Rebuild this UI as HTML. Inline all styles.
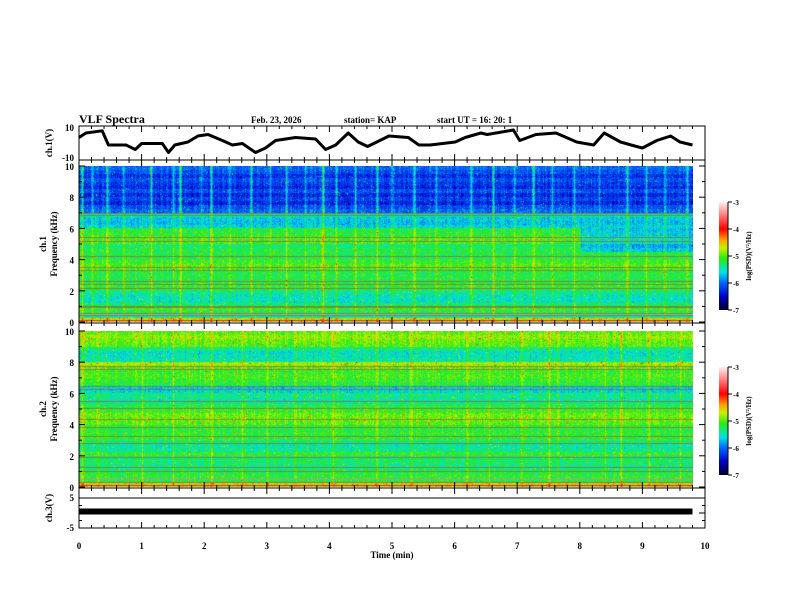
<!DOCTYPE html>
<html><head><meta charset="utf-8"><style>
body{margin:0;background:#fff;width:792px;height:612px;overflow:hidden;font-family:"Liberation Serif",serif}
#wrap{position:relative;width:792px;height:612px}
canvas{position:absolute}
svg{position:absolute;left:0;top:0}
text{font-family:"Liberation Serif",serif;font-weight:bold;fill:#000}
</style></head><body>
<div id="wrap">
<canvas id="spec1" style="left:79px;top:166px" width="614" height="156"></canvas>
<canvas id="spec2" style="left:79px;top:331px" width="614" height="156"></canvas>
<svg id="svg" width="792" height="612"></svg>
</div>
<script>
// ---- data ----
const ch1Times=[0,0.11,0.37,0.47,0.75,0.9,1.0,1.33,1.43,1.53,1.74,1.9,2.06,2.29,2.45,2.61,2.82,2.98,3.14,3.46,3.78,3.94,4.1,4.3,4.46,4.61,4.95,5.26,5.43,5.61,6.01,6.17,6.42,6.52,6.94,7.04,7.3,7.62,7.95,8.22,8.39,8.65,8.82,9.0,9.23,9.45,9.6,9.8];
const ch1Values=[3,6,7.5,-2,-2,-5,-1,-1,-7,-2,0,4,5,1,-2,-1,-7,-4,1,3,2,-5,-2,6,0,-3,4,3,-2,-2,0,3,6,5,8,1,5,6,0,-2,6,0,-2,-4,1,4,0,-2];
const ch3Value=0.5;
const freqBins=[0,0.25,0.5,0.75,1,1.25,1.5,1.75,2,2.25,2.5,2.75,3,3.25,3.5,3.75,4,4.25,4.5,4.75,5,5.25,5.5,5.75,6,6.25,6.5,6.75,7,7.25,7.5,7.75,8,8.25,8.5,8.75,9,9.25,9.5,9.75];
const ch1Profile=[-4.6,-5.4,-5.2,-5.1,-5.3,-5.5,-5.5,-5.4,-5.2,-5.1,-5.2,-5.2,-5.2,-5.05,-5.0,-5.1,-5.2,-5.2,-5.2,-5.3,-5.05,-5.05,-5.15,-5.2,-5.6,-5.7,-5.65,-5.4,-6.0,-6.1,-6.3,-6.15,-6.3,-6.1,-6.3,-6.2,-6.1,-6.25,-6.1,-6.0];
const ch2Profile=[-4.6,-5.2,-5.15,-5.2,-5.3,-5.35,-5.3,-5.3,-5.15,-5.4,-5.45,-5.3,-5.15,-5.15,-5.2,-5.15,-5.0,-4.95,-4.95,-5.1,-5.2,-5.35,-5.45,-5.35,-5.6,-5.6,-5.2,-5.1,-5.05,-5.1,-5.0,-4.8,-5.45,-5.5,-5.55,-5.35,-5.0,-4.95,-4.85,-4.95];
const ch1LateShift=[0,0,0,0,0,0,0,0,-0.45,-0.5];   // per minute shift of 4.5-6 kHz band
const ch1Streaks=[0.05,0.2,0.45,0.7,1.15,1.5,1.62,1.95,2.1,2.4,2.75,3.05,3.3,3.6,3.9,4.1,4.4,4.75,5.0,5.35,5.7,6.25,6.6,6.95,7.25,7.55,7.9,8.3,8.75,9.05,9.35,9.7];
const ch1StreakAmp=[1.0,0.5,0.8,0.4,0.9,0.6,1.0,0.4,0.7,0.5,0.9,0.5,0.8,0.4,1.0,0.6,0.5,0.8,0.4,0.7,0.5,0.6,0.8,0.5,0.9,0.5,0.7,0.4,0.8,0.6,0.5,0.7];
const ch2Streaks=[0.05,0.3,1.0,1.5,1.75,2.1,2.6,3.0,3.45,4.05,4.75,5.3,6.2,6.55,7.05,7.5,7.65,8.4,8.65,9.1,9.6];
const ch2StreakAmp=[0.9,0.5,0.6,0.8,0.5,0.7,0.5,0.8,0.5,0.6,0.5,0.5,0.6,0.5,0.6,0.9,0.6,0.5,0.8,0.5,0.6];
const ch1Lines=[0.15,0.45,0.6,0.95,1.05,2.15,2.45,2.6,3.35,3.5,4.2,5.2,5.45,6.85,7.0];
const ch2Lines=[0.12,0.3,0.5,1.0,1.3,1.95,2.85,3.3,3.85,4.35,5.05,5.5,6.3,6.5,7.55,7.75];
const xTickLabels=["0","1","2","3","4","5","6","7","8","9","10"];
const cbLabels=["-3","-4","-5","-6","-7"];

// ---- helpers ----
const X0=79,X1=705,TMAX=10;
const xs=t=>X0+(X1-X0)*t/TMAX;
const NS="http://www.w3.org/2000/svg";
const svg=document.getElementById('svg');
function el(tag,attrs,parent){const e=document.createElementNS(NS,tag);for(const k in attrs)e.setAttribute(k,attrs[k]);(parent||svg).appendChild(e);return e;}
function txt(x,y,s,size,anchor,name,extra){const t=el('text',Object.assign({x:x,y:y,'font-size':size,'text-anchor':anchor||'start'},extra||{}));t.textContent=s;


return t;}
function line(x1,y1,x2,y2,w,name){const l=el('line',{x1:x1,y1:y1,x2:x2,y2:y2,stroke:'#000','stroke-width':w||1});


return l;}

const stops=[[-7,0,0,40],[-6.5,0,0,200],[-6,0,100,255],[-5.6,0,225,230],[-5.1,40,235,20],[-4.7,200,240,0],[-4.4,255,160,0],[-4.0,255,0,0],[-3.5,255,120,120],[-3,255,240,240]];
function cmap(v){if(v<=-7)return stops[0].slice(1);if(v>=-3)return stops[stops.length-1].slice(1);
for(let i=0;i<stops.length-1;i++){const a=stops[i],b=stops[i+1];if(v>=a[0]&&v<=b[0]){const u=(v-a[0])/(b[0]-a[0]);return [a[1]+u*(b[1]-a[1]),a[2]+u*(b[2]-a[2]),a[3]+u*(b[3]-a[3])];}}}
function hash(a,b){let h=(a*374761393+b*668265263)|0;h=(h^(h>>>13))*1274126177|0;return ((h^(h>>>16))>>>0)/4294967296;}

function drawSpec(id,profile,streaks,amps,lines,lateShift,seed){
  const c=document.getElementById(id),ctx=c.getContext('2d');
  const W=c.width,H=c.height,tEnd=9.8;
  const img=ctx.createImageData(W,H);
  const streakCols=streaks.map(t=>Math.round(t/tEnd*W));
  for(let x=0;x<W;x++){
    const t=x/W*tEnd;const minute=Math.min(9,Math.floor(t));
    let st=0;streakCols.forEach((sc,i)=>{const d=Math.abs(x-sc);if(d<2)st=Math.max(st,amps[i]*(d===0?1:0.4));});
    const colN=(hash(x,seed)-0.5)*0.25;
    for(let y=0;y<H;y++){
      const f=10-(y+0.5)/H*10;const bi=Math.min(profile.length-1,Math.floor(f/0.25));
      let v=profile[bi];
      if(lateShift&&f>4.5&&f<6)v+=lateShift[minute];
      const boost=v<-5.8?st:st*0.55;
      const r=hash(x+seed,y);
      v+=boost+colN+(r-0.5)*0.45+(r>0.985?0.5:0);
      const col=cmap(v);const k=(y*W+x)*4;
      img.data[k]=col[0];img.data[k+1]=col[1];img.data[k+2]=col[2];img.data[k+3]=255;
    }
  }
  ctx.putImageData(img,0,0);
  for(const lf of lines){const y=Math.round(H-lf/10*H)+0.5;ctx.strokeStyle='rgba(150,80,70,0.6)';ctx.lineWidth=1;ctx.beginPath();ctx.moveTo(0,y);ctx.lineTo(W,y);ctx.stroke();}
  ctx.fillStyle='rgba(200,40,40,0.8)';ctx.fillRect(0,H-2,W,1);
  ctx.fillStyle='rgba(220,160,200,0.6)';ctx.fillRect(0,H-8,W,1);
}
drawSpec('spec1',ch1Profile,ch1Streaks,ch1StreakAmp,ch1Lines,ch1LateShift,11);
drawSpec('spec2',ch2Profile,ch2Streaks,ch2StreakAmp,ch2Lines,null,977);

// ---- panels ----
function xTicks(yTop,yBot,name){
  for(let i=0;i<=50;i++){const t=i*0.2,x=xs(t),maj=i%5===0,L=maj?6:3;
    line(x,yTop,x,yTop+L,1,name+'-tick-top');line(x,yBot,x,yBot-L,1,name+'-tick-bottom');}
}
function yTicks(y0,y1,n,name){
  for(let i=0;i<=n;i++){const y=y0+(y1-y0)*i/n,L=i%2===0?6:3;line(X0,y,X0+L,y,1,name+'-ytick');line(X1,y,X1-L,y,1,name+'-ytick-right');}
}
function box(y0,y1,name){const r=el('rect',{x:X0,y:y0,width:X1-X0,height:y1-y0,fill:'none',stroke:'#000','stroke-width':1});

}

txt(79,123,'VLF Spectra',12,'start','chart-title');
txt(251,123,'Feb. 23, 2026',9,'start','date-label');
txt(344,123,'station= KAP',9,'start','station-label');
txt(437,123,'start  UT =   16: 20: 1',9,'start','start-time-label');

// ch1 waveform
const c1y=v=>142-v*1.5;
box(126,160,'ch1-panel');xTicks(126,160,'ch1');
txt(74,131,'10',9,'end','ch1-ytick-label');txt(74,161,'-10',9,'end','ch1-ytick-label');
txt(52,143,'ch.1(V)',9,'middle','ch1-y-title',{transform:'rotate(-90 52 143)'});
let d='';ch1Times.forEach((t,i)=>{d+=(i?'L':'M')+xs(t).toFixed(1)+' '+c1y(ch1Values[i]).toFixed(1);});
const wp=el('path',{d:d,fill:'none',stroke:'#000','stroke-width':3,'stroke-linejoin':'round'});



function specPanel(top,bot,d0,d1,label,name){
  box(top,bot,name+'-panel');xTicks(top,bot,name);yTicks(d0,d1,10,name);
  for(let k=0;k<=5;k++){const v=10-2*k;txt(74,d0+(d1-d0)*k/5+4,String(v),9,'end',name+'-ytick-label');}
  const cy=(d0+d1)/2;
  txt(46,cy,label,9,'middle',name+'-channel-label',{transform:'rotate(-90 46 '+cy+')'});
  txt(57,cy,'Frequency (kHz)',9,'middle',name+'-y-title',{transform:'rotate(-90 57 '+cy+')'});
}
specPanel(160,323,166,322,'ch.1','spec1');
specPanel(323,488,331,487,'ch.2','spec2');

const defs=el('defs',{});const g=el('linearGradient',{id:'cb',x1:0,y1:1,x2:0,y2:0},defs);
stops.forEach(s=>el('stop',{offset:((s[0]+7)/4*100)+'%','stop-color':'rgb('+s[1]+','+s[2]+','+s[3]+')'},g));
function colorbar(y0,name){
  const r=el('rect',{x:719,y:y0,width:9,height:108,fill:'url(#cb)'});
  
  
  line(728,y0,728,y0+108,1,name+'-axis');
  cbLabels.forEach((s,i)=>{const y=y0+i*27;line(728,y,732,y,1,name+'-tick');txt(733,y+3,s,7,'start',name+'-tick-label');});
  const cy=y0+54;txt(751,cy,'log(PSD)(V²/Hz)',7,'middle',name+'-title',{transform:'rotate(-90 751 '+cy+')'});
}
colorbar(202,'ch1-colorbar');colorbar(367,'ch2-colorbar');

const c3y=v=>513-v*3;
box(488,528,'ch3-panel');xTicks(488,528,'ch3');
for(let v=-5;v<=5;v+=2.5){line(X0,c3y(v),X0+(v%5===0?6:3),c3y(v),1,'ch3-ytick');line(X1,c3y(v),X1-(v%5===0?6:3),c3y(v),1,'ch3-ytick-right');}
line(X0,498,X1,498,1,'ch3-top-line');
txt(74,501,'5',9,'end','ch3-ytick-label');txt(74,531,'-5',9,'end','ch3-ytick-label');
txt(52,508,'ch.3(V)',9,'middle','ch3-y-title',{transform:'rotate(-90 52 508)'});
const bar=el('rect',{x:X0,y:c3y(ch3Value)-3,width:xs(9.8)-X0,height:6,fill:'#000'});



xTickLabels.forEach((s,i)=>txt(xs(i),549,s,9,'middle','x-tick-label'));
txt(392,558,'Time  (min)',9,'middle','x-axis-title');
</script>
</body></html>
